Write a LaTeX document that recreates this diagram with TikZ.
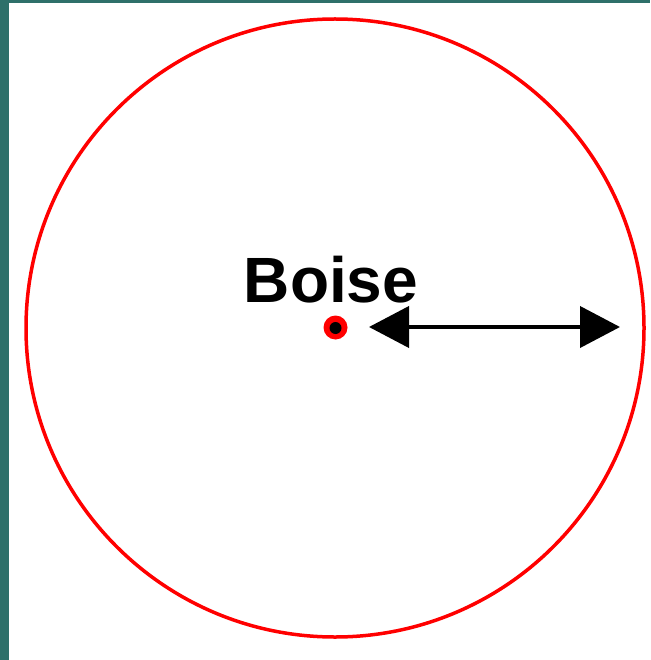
\documentclass[tikz,border=0pt]{standalone}
\usepackage{fontspec}
\setmainfont{Liberation Sans}
\usetikzlibrary{arrows.meta}
\definecolor{frameteal}{RGB}{46,112,106}
\definecolor{ringred}{RGB}{255,0,0}
\tikzset{
  bigtip/.style={-{Triangle[length=40pt,width=41pt]}},
  ringstyle/.style={circle, draw=ringred, line width=3.5pt, minimum size=618pt, inner sep=0pt},
}
\begin{document}
\begin{tikzpicture}[x=1pt,y=-1pt]
\useasboundingbox (0,0) rectangle (650,660);
\fill[white] (0,0) rectangle (650,660);
\fill[frameteal] (0,0) rectangle (9,660);
\fill[frameteal] (0,0) rectangle (650,3.5);
\node[ringstyle] (ring) at (335,328) {};
\node[anchor=base, font=\fontsize{64}{64}\selectfont\bfseries, inner sep=0pt] (label) at (331,302) {Boise};
\node[circle, fill=ringred, minimum size=24pt, inner sep=0pt] (dot) at (335.5,327.5) {};
\node[circle, fill=black, minimum size=12pt, inner sep=0pt] (dotin) at (335.5,328) {};
\coordinate (aL) at (369,327);
\coordinate (aR) at (620,327);
\coordinate (aM) at (495,327);
\draw[line width=4pt, bigtip] (aM) -- (aL);
\draw[line width=4pt, bigtip] (aM) -- (aR);
\end{tikzpicture}
\end{document}
